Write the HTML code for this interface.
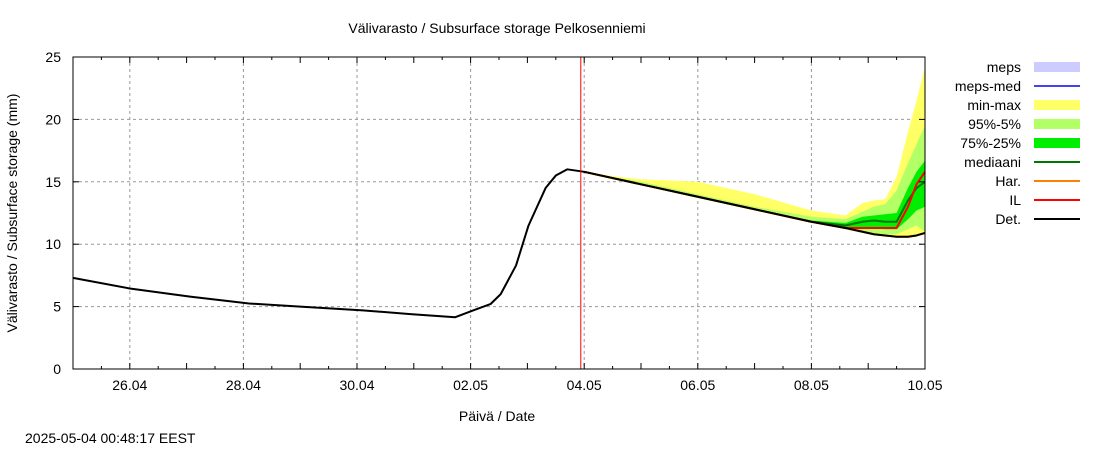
<!DOCTYPE html>
<html><head><meta charset="utf-8"><style>
body{margin:0;background:#fff;}
svg{display:block;font-family:"Liberation Sans",sans-serif;}
</style></head><body>
<svg id="chart" width="1100" height="450" viewBox="0 0 1100 450">
<rect x="0" y="0" width="1100" height="450" fill="#fff"/>
<text x="497" y="33" font-size="14" text-anchor="middle">Välivarasto / Subsurface storage  Pelkosenniemi</text>
<g id="grid"></g>
<g id="bands"></g>
<g id="lines"></g>
<rect x="73" y="57" width="852" height="312" fill="none" stroke="#000" stroke-width="1"/>
<g id="axes" font-size="14"></g>
<text x="17" y="213" font-size="14" text-anchor="middle" transform="rotate(-90 17 213)">Välivarasto / Subsurface storage (mm)</text>
<text x="497" y="421" font-size="14" text-anchor="middle">Päivä / Date</text>
<text x="25" y="443" font-size="14">2025-05-04 00:48:17 EEST</text>
<g id="legend" font-size="14"></g>
</svg>
<script>
const histDays = [0,1,2.06,3.1,4,5.1,5.94,6.73,7.05,7.35,7.53,7.8,8.02,8.32,8.5,8.7,9];
const histDet = [7.3,6.45,5.8,5.25,5.0,4.7,4.4,4.15,4.7,5.2,6.0,8.3,11.5,14.5,15.5,16.0,15.8];
const fcDays = [9,9.5,10,11,12,13,13.6,13.9,14.1,14.3,14.5,14.7,14.85,15];
const fcDet = [15.8,15.3,14.8,13.8,12.8,11.8,11.3,11.0,10.8,10.7,10.6,10.6,10.7,10.9];
const fcMin = [15.7,15.2,14.7,13.7,12.7,11.7,11.2,10.9,10.7,10.6,10.5,10.5,10.6,10.8];
const fcMax = [15.8,15.45,15.2,15.0,14.0,12.7,12.3,13.3,13.5,13.6,15.4,19.0,21.5,24.2];
const fcP95 = [15.8,15.4,15.0,14.0,13.0,12.2,12.0,12.6,13.0,13.2,14.3,16.5,18.0,19.5];
const fcP75 = [15.8,15.3,14.8,13.8,12.8,11.9,11.7,12.2,12.3,12.4,12.5,14.5,15.8,16.7];
const fcMed = [15.8,15.3,14.8,13.8,12.8,11.8,11.5,11.8,11.9,11.8,11.8,13.5,14.5,15.0];
const fcP25 = [15.8,15.3,14.8,13.8,12.8,11.8,11.3,11.3,11.3,11.2,11.2,12.0,12.7,13.0];
const fcP5 = [15.8,15.3,14.8,13.8,12.8,11.8,11.3,11.0,10.9,10.8,10.8,11.2,11.5,11.0];
const fcIL = [15.8,15.3,14.8,13.8,12.8,11.8,11.3,11.3,11.3,11.3,11.3,13.0,14.8,15.8];
const fcHar = [15.8,15.3,14.8,13.8,12.8,11.8,11.3,11.0,10.8,10.7,10.6,10.6,10.7,10.9];
const xTickDays = [1,3,5,7,9,11,13,15];
const xTickLabels = ["26.04","28.04","30.04","02.05","04.05","06.05","08.05","10.05"];
const yTicks = [0,5,10,15,20,25];
const nowDay = 8.94;

const NS="http://www.w3.org/2000/svg";
const X0=73,X1=925,Y0=369,Y1=57,DMAX=15,VMAX=25;
const xs=d=>X0+(X1-X0)*d/DMAX;
const ys=v=>Y0-(Y0-Y1)*v/VMAX;
function mk(tag,attrs,parent){const e=document.createElementNS(NS,tag);for(const k in attrs)e.setAttribute(k,attrs[k]);parent.appendChild(e);return e;}
const grid=document.getElementById('grid'),bands=document.getElementById('bands'),lines=document.getElementById('lines'),axes=document.getElementById('axes'),legend=document.getElementById('legend');

xTickDays.forEach((d,i)=>{
  const g=mk('line',{x1:xs(d),x2:xs(d),y1:Y1,y2:Y0,stroke:'#999','stroke-dasharray':'3,3'},grid);
  
  
  const t=mk('text',{x:xs(d),y:Y0+21,'text-anchor':'middle'},axes);
  t.textContent=xTickLabels[i];
  
  
});
for(let d=0.5;d<DMAX;d+=0.5){
  const len=(d%1===0)?6:3;
  mk('line',{x1:xs(d),x2:xs(d),y1:Y0,y2:Y0-len,stroke:'#000'},axes);
  mk('line',{x1:xs(d),x2:xs(d),y1:Y1,y2:Y1+len,stroke:'#000'},axes);
}
yTicks.forEach(v=>{
  if(v>0&&v<VMAX){
    const g=mk('line',{x1:X0,x2:X1,y1:ys(v),y2:ys(v),stroke:'#999','stroke-dasharray':'3,3'},grid);
    
    
  }
  mk('line',{x1:X0,x2:X0+6,y1:ys(v),y2:ys(v),stroke:'#000'},axes);
  mk('line',{x1:X1,x2:X1-6,y1:ys(v),y2:ys(v),stroke:'#000'},axes);
  const t=mk('text',{x:X0-12,y:ys(v)+5,'text-anchor':'end'},axes);
  t.textContent=v;
  
  
});

function band(lo,hi,color,name){
  let p='';
  fcDays.forEach((d,i)=>{p+=(i?'L':'M')+xs(d)+','+ys(hi[i]);});
  for(let i=fcDays.length-1;i>=0;i--)p+='L'+xs(fcDays[i])+','+ys(lo[i]);
  const e=mk('path',{d:p+'Z',fill:color},bands);
  
  
}
band(fcMin,fcMax,'#ffff66','band-min-max');
band(fcP5,fcP95,'#b3ff66','band-95-5');
band(fcP25,fcP75,'#00ee00','band-75-25');

function line(days,vals,color,w,name){
  const pts=days.map((d,i)=>xs(d)+','+ys(vals[i])).join(' ');
  const e=mk('polyline',{points:pts,fill:'none',stroke:color,'stroke-width':w,'stroke-linejoin':'round'},lines);
  
  
}
line(fcDays,fcHar,'#ff8000',2,'har-line');
line(fcDays,fcMed,'#007700',2,'median-line');
line(fcDays,fcIL,'#ff0000',2,'il-line');
line(histDays.concat(fcDays.slice(1)),histDet.concat(fcDet.slice(1)),'#000',2,'det-line');
const nl=mk('line',{x1:xs(nowDay),x2:xs(nowDay),y1:Y1,y2:Y0,stroke:'#ff0000','stroke-width':1},lines);



const legItems=[["meps","#ccccff","box"],["meps-med","#4444ee","line"],["min-max","#ffff66","box"],["95%-5%","#b3ff66","box"],["75%-25%","#00ee00","box"],["mediaani","#007700","line"],["Har.","#ff8000","line"],["IL","#ff0000","line"],["Det.","#000000","line"]];
legItems.forEach((it,i)=>{
  const y=67+i*19;
  const t=mk('text',{x:1021,y:y+5,'text-anchor':'end'},legend);
  t.textContent=it[0];
  
  
  if(it[2]==='box')mk('rect',{x:1034,y:y-5,width:46,height:10,fill:it[1]},legend);
  else mk('line',{x1:1034,x2:1080,y1:y,y2:y,stroke:it[1],'stroke-width':2},legend);
});
</script>
</body></html>
